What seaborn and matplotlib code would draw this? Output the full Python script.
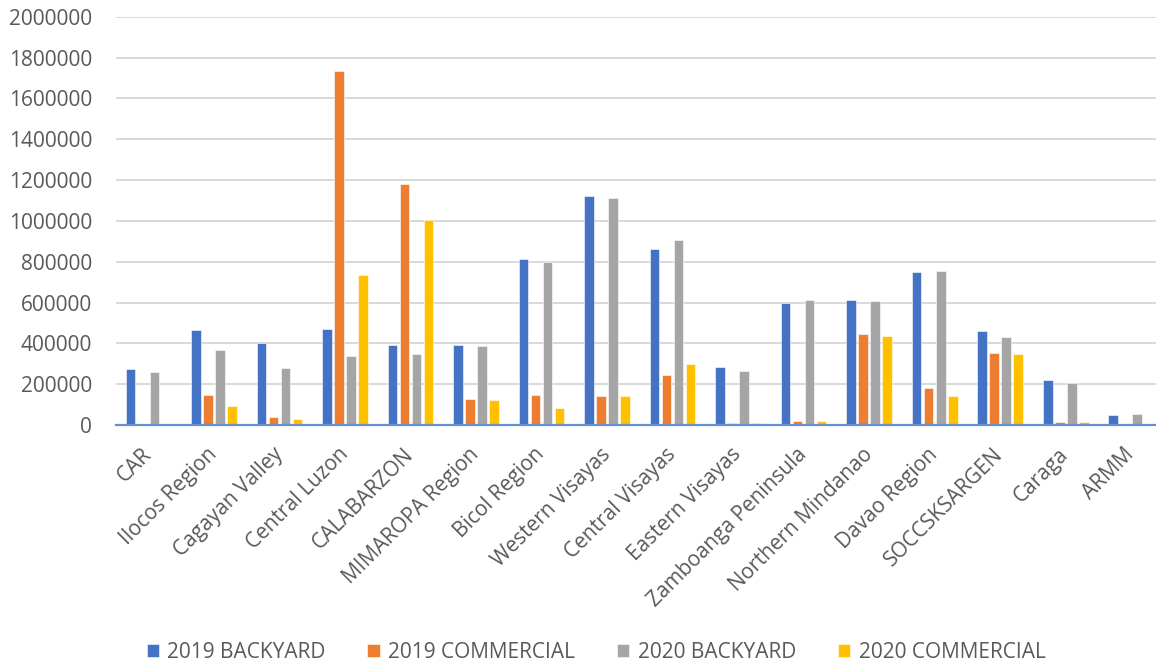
import matplotlib
matplotlib.use("Agg")
import matplotlib.pyplot as plt
from matplotlib.ticker import FuncFormatter
import numpy as np
import pandas as pd
import seaborn as sns

regions = ["CAR", "Ilocos Region", "Cagayan Valley", "Central Luzon", "CALABARZON",
           "MIMAROPA Region", "Bicol Region", "Western Visayas", "Central Visayas",
           "Eastern Visayas", "Zamboanga Peninsula", "Northern Mindanao", "Davao Region",
           "SOCCSKSARGEN", "Caraga", "ARMM"]
backyard_2019 = [273000, 466000, 403000, 469000, 392000, 391000, 814000, 1123000, 864000,
                 286000, 596000, 611000, 750000, 459000, 222000, 47000]
commercial_2019 = [0, 147000, 39000, 1734000, 1180000, 127000, 146000, 142000, 245000,
                   11000, 18000, 446000, 180000, 351000, 13000, 0]
backyard_2020 = [258000, 366000, 278000, 340000, 350000, 389000, 796000, 1111000, 905000,
                 263000, 611000, 609000, 753000, 431000, 207000, 55000]
commercial_2020 = [0, 95000, 31000, 734000, 1003000, 122000, 82000, 144000, 297000,
                   8000, 20000, 436000, 140000, 346000, 13000, 0]
series_names = ["2019 BACKYARD", "2019 COMMERCIAL", "2020 BACKYARD", "2020 COMMERCIAL"]
colors = ["#4472C4", "#ED7D31", "#A5A5A5", "#FFC000"]
y_ticks = list(range(0, 2000001, 200000))

sns.set_theme(style="white")
plt.rcParams["font.family"] = ["Open Sans", "DejaVu Sans"]

df = pd.DataFrame({"Region": regions,
                   series_names[0]: backyard_2019,
                   series_names[1]: commercial_2019,
                   series_names[2]: backyard_2020,
                   series_names[3]: commercial_2020})
long = df.melt(id_vars="Region", var_name="Series", value_name="Value")

W, H = 1156, 665
fig = plt.figure(figsize=(W / 100, H / 100), dpi=100)
ax = fig.add_axes([115.75 / W, 240 / H, 1048.25 / W, 408.3 / H])

sns.barplot(data=long, x="Region", y="Value", hue="Series", hue_order=series_names,
            order=regions, palette=colors, saturation=1, width=0.733, gap=0.2,
            ax=ax, errorbar=None, edgecolor="white", linewidth=0.4)

ax.set_xlim(-0.5, len(regions) - 0.5)
ax.set_ylim(0, 2000000)
ax.set_yticks(y_ticks)
ax.yaxis.set_major_formatter(FuncFormatter(lambda v, p: f"{int(v)}"))
ax.yaxis.grid(True, color="#D9D9D9", linewidth=1.4)
ax.set_axisbelow(True)
for s in ["top", "right", "left"]:
    ax.spines[s].set_visible(False)
ax.spines["bottom"].set_color("#6A8FD0")
ax.spines["bottom"].set_linewidth(1.6)
ax.set_xlabel("")
ax.set_ylabel("")
ax.tick_params(axis="y", length=0, pad=17, labelsize=15, labelcolor="#595959")
ax.tick_params(axis="x", length=0, pad=19, labelsize=15, labelcolor="#595959")
plt.setp(ax.get_xticklabels(), rotation=45, ha="right", va="center", rotation_mode="anchor")

handles, labels = ax.get_legend_handles_labels()
ax.get_legend().remove()
fig.legend(handles, labels, ncol=4, loc="center", bbox_to_anchor=(596 / W, 1 - 652 / H),
           frameon=False, handlelength=0.6, handleheight=0.6, handletextpad=0.4,
           columnspacing=2.0, fontsize=15, labelcolor="#595959")

fig.savefig("out.png", dpi=100)
